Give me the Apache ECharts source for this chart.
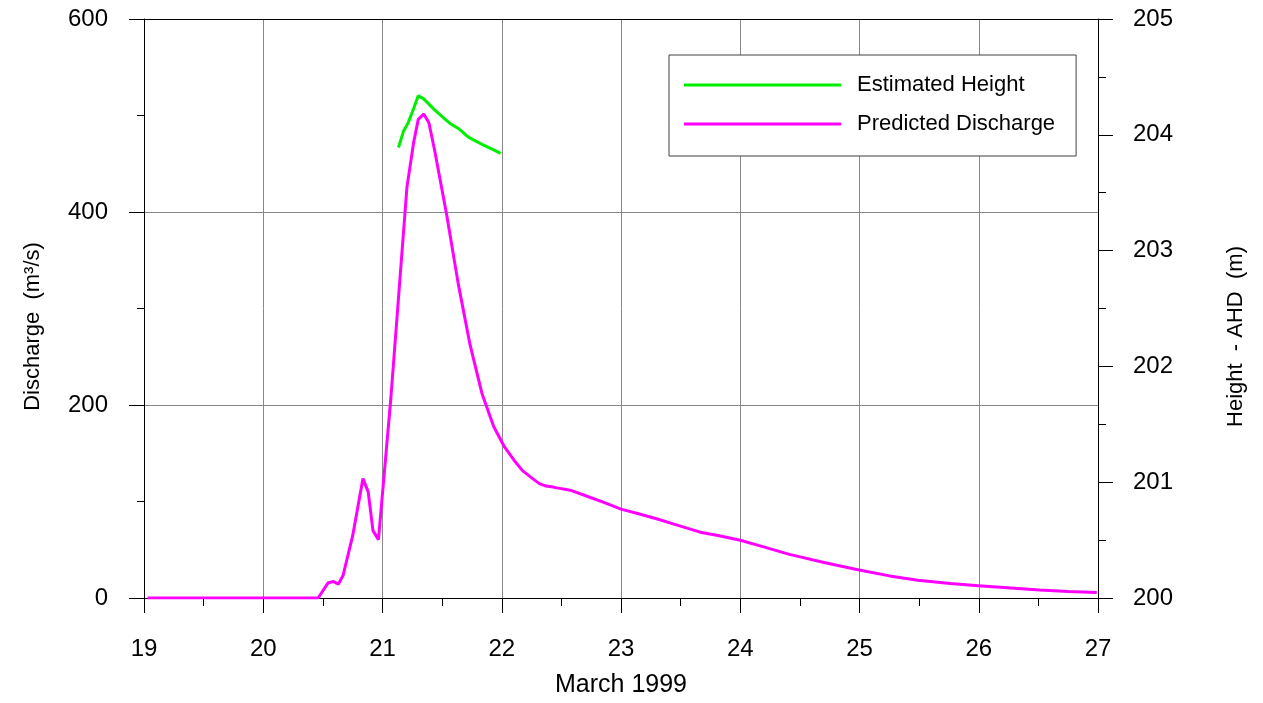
<!DOCTYPE html>
<html>
<head>
<meta charset="utf-8">
<script src="https://cdn.jsdelivr.net/npm/echarts@6/dist/echarts.min.js"></script>
<style>
html,body{margin:0;padding:0;background:#fff;}
#chart{width:1263px;height:703px;}
</style>
</head>
<body>
<div id="chart"></div>
<script>
// ---- data ----
const dischargeDays = [19.03, 20.46, 20.545, 20.59, 20.63, 20.67, 20.75, 20.836, 20.88, 20.92, 20.966, 21.07, 21.145, 21.205, 21.262, 21.30, 21.346, 21.389, 21.437, 21.537, 21.636, 21.735, 21.834, 21.933, 22.023, 22.103, 22.174, 22.259, 22.316, 22.372, 22.43, 22.452, 22.586, 22.721, 22.856, 23.0, 23.155, 23.305, 23.485, 23.664, 23.814, 24.0, 24.203, 24.413, 24.712, 24.997, 25.252, 25.49, 25.761, 25.997, 26.27, 26.51, 26.75, 26.99];
const dischargeValues = [0, 0, 15.9, 17, 14.3, 23.6, 64.6, 123.7, 110, 69.8, 60.5, 207, 328.6, 425.8, 472.7, 496, 501.5, 492.5, 464, 398, 325, 262, 212, 177.4, 156.5, 142.8, 132, 123.7, 118.5, 116, 115, 114.4, 111.3, 105.2, 99, 92.1, 87, 81.9, 75, 68.2, 64.8, 59.9, 52.7, 45.2, 36.6, 29.1, 22.9, 18.5, 15, 12.6, 10.3, 8.2, 6.8, 5.8];
const heightDays = [21.134, 21.176, 21.216, 21.262, 21.30, 21.346, 21.437, 21.52, 21.564, 21.636, 21.72, 21.848, 21.933, 21.99];
const heightValues = [203.89, 204.03, 204.105, 204.23, 204.337, 204.31, 204.215, 204.14, 204.1, 204.055, 203.98, 203.91, 203.87, 203.84];
const seriesNames = ['Estimated Height', 'Predicted Discharge'];
const xTitle = 'March 1999';
const yLeftTitle = 'Discharge  (m³/s)';
const yRightTitle = 'Height  - AHD  (m)';

const FONT = 'Liberation Sans, Arial, sans-serif';
const chart = echarts.init(document.getElementById('chart'), null, {renderer: 'canvas'});
const zip = (xs, ys) => xs.map((x, i) => [x, ys[i]]);

chart.setOption({
  animation: false,
  backgroundColor: '#fff',
  grid: {left: 144, right: 165, top: 19, bottom: 101, containLabel: false},
  legend: {
    left: 669, top: 55,
    orient: 'vertical',
    icon: 'rect',
    itemWidth: 157, itemHeight: 3,
    itemGap: 15,
    padding: [18, 21, 20, 15],
    borderColor: '#404040', borderWidth: 1,
    backgroundColor: '#fff',
    data: seriesNames,
    textStyle: {fontFamily: FONT, fontSize: 22, color: '#000', lineHeight: 24, padding: [0, 0, 0, 11]}
  },
  xAxis: [{
    type: 'value', min: 19, max: 27, interval: 1,
    name: xTitle, nameLocation: 'middle', nameGap: 75,
    nameTextStyle: {fontFamily: FONT, fontSize: 25, color: '#000'},
    axisLine: {show: true, onZero: false, lineStyle: {color: '#000', width: 1}},
    axisTick: {show: true, inside: false, length: 15, lineStyle: {color: '#000'}},
    minorTick: {show: true, splitNumber: 2, length: 8, lineStyle: {color: '#000'}},
    axisLabel: {fontFamily: FONT, fontSize: 24, color: '#000', margin: 39},
    splitLine: {show: true, lineStyle: {color: '#888', width: 1}}
  }, {
    type: 'value', min: 19, max: 27, position: 'top',
    axisLine: {show: true, onZero: false, lineStyle: {color: '#000', width: 1}},
    axisTick: {show: false}, axisLabel: {show: false}, splitLine: {show: false}
  }],
  yAxis: [{
    type: 'value', min: 0, max: 600, interval: 200, position: 'left',
    name: yLeftTitle, nameLocation: 'middle', nameGap: 100, nameRotate: 90,
    nameTextStyle: {fontFamily: FONT, fontSize: 22, color: '#000', padding: [0, 36, 0, 0]},
    axisLine: {show: true, onZero: false, lineStyle: {color: '#000', width: 1}},
    axisTick: {show: true, inside: false, length: 15, lineStyle: {color: '#000'}},
    minorTick: {show: true, splitNumber: 2, length: 7, lineStyle: {color: '#000'}},
    axisLabel: {fontFamily: FONT, fontSize: 24, color: '#000', margin: 36},
    splitLine: {show: true, lineStyle: {color: '#888', width: 1}}
  }, {
    type: 'value', min: 200, max: 205, interval: 1, position: 'right',
    name: yRightTitle, nameLocation: 'middle', nameGap: 127, nameRotate: 90,
    nameTextStyle: {fontFamily: FONT, fontSize: 22, color: '#000', padding: [0, 56, 0, 0]},
    axisLine: {show: true, onZero: false, lineStyle: {color: '#000', width: 1}},
    axisTick: {show: true, inside: false, length: 15, lineStyle: {color: '#000'}},
    minorTick: {show: true, splitNumber: 2, length: 8, lineStyle: {color: '#000'}},
    axisLabel: {fontFamily: FONT, fontSize: 24, color: '#000', margin: 35},
    splitLine: {show: false}
  }],
  series: [{
    name: seriesNames[0], type: 'line', xAxisIndex: 0, yAxisIndex: 1,
    data: zip(heightDays, heightValues),
    showSymbol: false, symbol: 'none',
    lineStyle: {color: '#00ee00', width: 3}, itemStyle: {color: '#00ee00'}, z: 3
  }, {
    name: seriesNames[1], type: 'line', xAxisIndex: 0, yAxisIndex: 0,
    data: zip(dischargeDays, dischargeValues),
    showSymbol: false, symbol: 'none',
    lineStyle: {color: '#ff00ff', width: 3}, itemStyle: {color: '#ff00ff'}, z: 4
  }]
});
</script>
</body>
</html>
